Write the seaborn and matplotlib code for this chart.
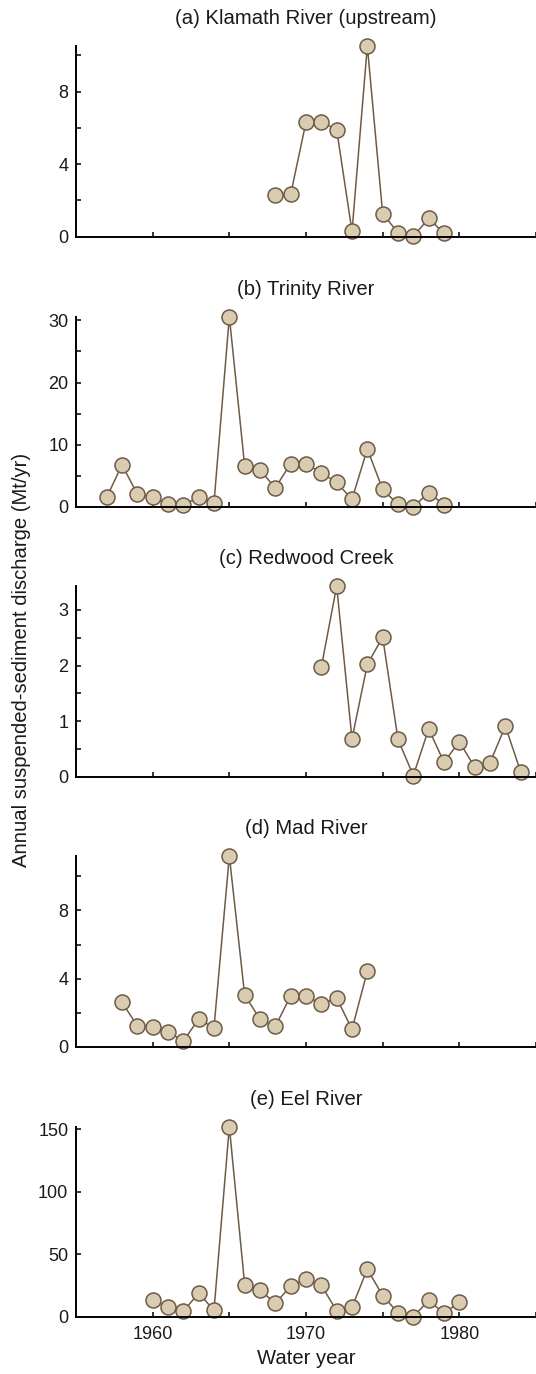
import matplotlib
matplotlib.use("Agg")
import matplotlib.pyplot as plt
import seaborn as sns
import pandas as pd
import numpy as np
from matplotlib.ticker import FixedLocator, NullFormatter

sns.set_style("ticks")
plt.rcParams['font.family'] = ['Liberation Sans', 'DejaVu Sans']

# ---- data ----
klamath_years = list(range(1968, 1980))
klamath_vals = [2.30, 2.33, 6.32, 6.32, 5.90, 0.29, 10.51, 1.27, 0.22, 0.02, 1.01, 0.18]

trinity_years = list(range(1957, 1980))
trinity_vals = [1.5, 6.74, 2.03, 1.5, 0.37, 0.32, 1.5, 0.64, 30.6, 6.58, 5.88, 3.05,
                6.95, 6.95, 5.45, 3.9, 1.18, 9.3, 2.78, 0.37, 0.0, 2.25, 0.32]

redwood_years = list(range(1971, 1985))
redwood_vals = [1.97, 3.43, 0.68, 2.02, 2.51, 0.67, 0.02, 0.86, 0.26, 0.63, 0.17, 0.25, 0.91, 0.09]

mad_years = list(range(1958, 1975))
mad_vals = [2.6, 1.23, 1.15, 0.88, 0.33, 1.62, 1.12, 11.2, 3.03, 1.62, 1.19, 2.99,
            2.99, 2.5, 2.86, 1.02, 4.44]

eel_years = list(range(1960, 1981))
eel_vals = [13.6, 7.5, 4.3, 18.9, 5.1, 152.0, 25.6, 21.3, 10.7, 24.5, 29.8, 25.0,
            4.8, 7.5, 38.1, 16.8, 3.2, 0.0, 13.1, 2.7, 11.7]

titles = ["(a) Klamath River (upstream)", "(b) Trinity River", "(c) Redwood Creek",
          "(d) Mad River", "(e) Eel River"]
series = [(klamath_years, klamath_vals), (trinity_years, trinity_vals),
          (redwood_years, redwood_vals), (mad_years, mad_vals), (eel_years, eel_vals)]
y_major = [[0, 4, 8], [0, 10, 20, 30], [0, 1, 2, 3], [0, 4, 8], [0, 50, 100, 150]]
y_minor = [[2, 6, 10], [5, 15, 25], [0.5, 1.5, 2.5], [2, 6, 10], []]
x_major = [1960, 1970, 1980]
x_minor = [1965, 1975, 1985]

ylabel = "Annual suspended-sediment discharge (Mt/yr)"
xlabel = "Water year"

# ---- layout ----
W, H = 536, 1374
fig = plt.figure(figsize=(W / 100, H / 100), dpi=100)
tops = [46, 316.7, 586, 856, 1126.7]
bottoms = [236.7, 506.7, 776.7, 1046.7, 1316.7]
left_px = 76

line_col = "#6e5b47"
face_col = "#d9ccb1"
fs_tick = 13
fs_lab = 14.6

for i, ((yrs, vals), title) in enumerate(zip(series, titles)):
    ax = fig.add_axes([left_px / W, 1 - bottoms[i] / H, (W - left_px) / W,
                       (bottoms[i] - tops[i]) / H])
    df = pd.DataFrame({"year": yrs, "value": vals})
    sns.lineplot(data=df, x="year", y="value", ax=ax, color=line_col, lw=1.1,
                 marker="o", markersize=10.8, markerfacecolor=face_col,
                 markeredgecolor=line_col, markeredgewidth=1.1)
    for art in ax.lines:
        art.set_clip_on(False)
    ax.set_xlim(1955, 1985)
    ax.set_ylim(0, max(vals))
    sns.despine(ax=ax)
    for s in ["left", "bottom"]:
        ax.spines[s].set_linewidth(1.4)
        ax.spines[s].set_color("black")
    ax.xaxis.set_major_locator(FixedLocator(x_major))
    ax.xaxis.set_minor_locator(FixedLocator(x_minor))
    ax.yaxis.set_major_locator(FixedLocator(y_major[i]))
    ax.yaxis.set_minor_locator(FixedLocator(y_minor[i]))
    ax.yaxis.set_minor_formatter(NullFormatter())
    ax.xaxis.set_minor_formatter(NullFormatter())
    ax.tick_params(which="both", direction="in", length=3.5, width=1.1, color="black",
                   labelsize=fs_tick, labelcolor="#1a1a1a")
    ax.tick_params(axis="y", pad=5.5)
    ax.tick_params(axis="x", pad=7)
    if i < 4:
        ax.set_xticklabels([])
    ax.set_xlabel("")
    ax.set_ylabel("")
    ax.set_title(title, fontsize=fs_lab, pad=15.5, color="#1a1a1a")

fig.text(22 / W, 1 - 660 / H, ylabel, rotation=90, ha="center", va="center",
         fontsize=fs_lab, color="#1a1a1a")
fig.text(306 / W, 1 - 1358 / H, xlabel, ha="center", va="center", fontsize=fs_lab,
         color="#1a1a1a")

fig.savefig("out.png", dpi=100)
